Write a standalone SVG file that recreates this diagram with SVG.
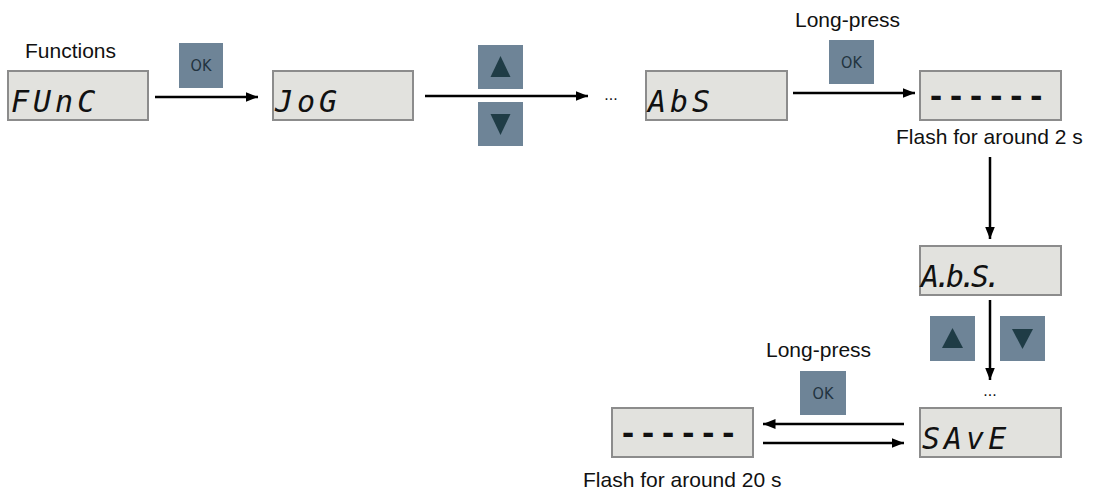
<svg xmlns="http://www.w3.org/2000/svg" width="1096" height="492" viewBox="0 0 1096 492">
<style>
.lbl{font-family:"Liberation Sans",Arial,sans-serif;font-size:21px;fill:#111}
.disp{fill:#e2e2de;stroke:#8c8c8c;stroke-width:2}
.seg{font-family:"DejaVu Sans Mono",monospace;font-style:oblique;font-size:30px;fill:#111;letter-spacing:4px}
.dash{font-family:"DejaVu Sans Mono",monospace;font-weight:bold;font-size:30px;fill:#111;letter-spacing:2px}
.btn{fill:#6e8497}
.tri{fill:#1f3c46}
.ok{font-family:"DejaVu Sans Condensed","DejaVu Sans",sans-serif;font-size:16px;fill:#22333f;text-anchor:middle}
.conn{stroke:#000;stroke-width:2.5;fill:none;marker-end:url(#ah)}
.dots{font-family:"Liberation Sans",Arial,sans-serif;font-size:16px;fill:#111;text-anchor:middle}
</style>
<defs>
<marker id="ah" viewBox="0 0 10 10" refX="10" refY="5" markerWidth="5" markerHeight="5" markerUnits="strokeWidth" orient="auto">
<path d="M0,1 L10,5 L0,9 z" fill="#000"/>
</marker>
</defs>
<rect width="1096" height="492" fill="#fff"/>

<g id="connectors">
<line class="conn" x1="155" y1="97" x2="258" y2="97"/>
<line class="conn" x1="425" y1="96" x2="588" y2="96"/>
<line class="conn" x1="793" y1="93" x2="915" y2="93"/>
<line class="conn" x1="990" y1="157" x2="990" y2="239"/>
<line class="conn" x1="990" y1="300" x2="990" y2="380"/>
<line class="conn" x1="904" y1="424" x2="763" y2="424"/>
<line class="conn" x1="763" y1="443" x2="904" y2="443"/>
</g>

<g id="node-func">
<text class="lbl" x="25" y="58">Functions</text>
<rect class="disp" x="8" y="71" width="140" height="49"/>
<text class="seg" x="11" y="112">FUnC</text>
</g>

<g id="btn-ok1">
<rect class="btn" x="179" y="43" width="44" height="45"/>
<text class="ok" x="201" y="71">OK</text>
</g>

<g id="node-jog">
<rect class="disp" x="273" y="71" width="140" height="49"/>
<text class="seg" x="275" y="112">JoG</text>
</g>

<g id="btn-updown1">
<rect class="btn" x="478" y="45" width="45" height="44"/>
<path class="tri" d="M500.5,56 L510.5,77 L490.5,77 z"/>
<rect class="btn" x="478" y="102" width="45" height="44"/>
<path class="tri" d="M490.5,114 L510.5,114 L500.5,135 z"/>
</g>

<text class="dots" x="611" y="100">...</text>

<g id="node-abs">
<rect class="disp" x="646" y="71" width="141" height="49"/>
<text class="seg" x="648" y="112">AbS</text>
</g>

<g id="btn-ok2">
<text class="lbl" x="795" y="27">Long-press</text>
<rect class="btn" x="829" y="40" width="45" height="44"/>
<text class="ok" x="851.5" y="68">OK</text>
</g>

<g id="node-flash2">
<rect class="disp" x="920" y="71" width="141" height="49"/>
<text class="dash" x="927" y="107">------</text>
<text class="lbl" x="896" y="144">Flash for around 2 s</text>
</g>

<g id="node-abs-dot">
<rect class="disp" x="920" y="246" width="141" height="49"/>
<text class="seg" x="921 934 946 959 971 984" y="287" style="letter-spacing:0px">A.b.S.</text>
</g>

<g id="btn-updown2">
<rect class="btn" x="930" y="316" width="45" height="45"/>
<path class="tri" d="M952.5,328 L963,348 L942,348 z"/>
<rect class="btn" x="1000" y="316" width="45" height="45"/>
<path class="tri" d="M1012,329 L1033,329 L1022.5,349 z"/>
</g>

<text class="dots" x="990" y="396">...</text>

<g id="node-save">
<rect class="disp" x="920" y="408" width="141" height="49"/>
<text class="seg" x="922" y="449">SAvE</text>
</g>

<g id="btn-ok3">
<text class="lbl" x="766" y="357">Long-press</text>
<rect class="btn" x="800" y="371" width="46" height="44"/>
<text class="ok" x="823" y="399">OK</text>
</g>

<g id="node-flash20">
<rect class="disp" x="612" y="408" width="141" height="49"/>
<text class="dash" x="619" y="444">------</text>
<text class="lbl" x="583" y="487">Flash for around 20 s</text>
</g>
</svg>
